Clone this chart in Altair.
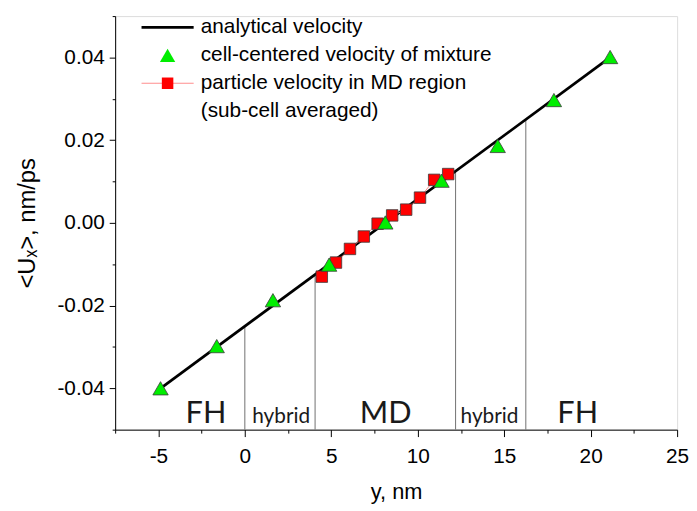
import altair as alt
import pandas as pd

# ---- legend / series names ----
L1 = "analytical velocity"
L2 = "cell-centered velocity of mixture"
L3 = "particle velocity in MD region"
L4 = "(sub-cell averaged)"
legend_labels = [L1, L2, L3, L4]
# marker legend keys (kept distinct so the marker legend is not merged with the line legend)
marker_keys = ["m0", "cell", "particle", "m3"]

# ---- data ----
ana_y = [-4.875, 21.125]
ana_u = [-0.040, 0.040]

cell_y = [-4.875, -1.625, 1.625, 4.875, 8.125, 11.375, 14.625, 17.875, 21.125]
cell_u = [-0.0400, -0.0298, -0.0187, -0.0101, 0.0001, 0.0102, 0.0186, 0.0297, 0.0401]

md_y = [4.45, 5.27, 6.08, 6.88, 7.68, 8.52, 9.33, 10.13, 10.95, 11.76]
md_u = [-0.0130, -0.0096, -0.0063, -0.0033, -0.0002, 0.0018, 0.0032, 0.0061, 0.0104, 0.0118]

bound_y = [0.0, 4.0625, 12.1875, 16.25]
bound_top = [-0.025, -0.0125, 0.0125, 0.025]
bound_bottom = [-0.05, -0.05, -0.05, -0.05]

region_text = ["FH", "hybrid", "MD", "hybrid", "FH"]
region_y = [-2.25, 2.1, 8.15, 14.15, 19.25]
region_u = [-0.0484, -0.0484, -0.0484, -0.0484, -0.0484]
region_fs = [31, 21, 31, 21, 31]

x_ticks = [-7.5, -5, -2.5, 0, 2.5, 5, 7.5, 10, 12.5, 15, 17.5, 20, 22.5, 25]
y_ticks = [-0.05, -0.04, -0.03, -0.02, -0.01, 0.0, 0.01, 0.02, 0.03, 0.04, 0.05]

ana_df = pd.DataFrame({"y": ana_y, "u": ana_u, "series_l": L1})
md_line_df = pd.DataFrame({"y": md_y, "u": md_u, "series_l": L3})
md_pt_df = pd.DataFrame({"y": md_y, "u": md_u, "series_p": marker_keys[2]})
cell_df = pd.DataFrame({"y": cell_y, "u": cell_u, "series_p": marker_keys[1]})
bound_df = pd.DataFrame({"y": bound_y, "u": bound_bottom, "u2": bound_top})
region_df = pd.DataFrame({"y": region_y, "u": region_u, "label": region_text, "fs": region_fs})

FONT = "Liberation Sans"

x_major = "datum.value % 5 == 0"
y_major = "abs(round(datum.value * 100)) % 2 == 0"

x_axis = alt.Axis(
    values=x_ticks,
    labelExpr=f"{x_major} ? ((datum.value < 0 ? '-' : '') + format(abs(datum.value), 'd')) : ''",
    tickSize={"condition": {"test": x_major, "value": 7}, "value": 3.5},
    grid=False, labelFlush=False, labelOverlap=False,
    domainColor="black", tickColor="black", domainWidth=1, tickWidth=1,
    labelFont=FONT, labelFontSize=21, labelColor="black", labelPadding=9,
    title="y, nm", titleFont=FONT, titleFontSize=22, titleFontWeight="normal",
    titleColor="black", titlePadding=16,
)
y_axis = alt.Axis(
    values=y_ticks,
    labelExpr=f"{y_major} ? ((datum.value < 0 ? '-' : '') + format(abs(datum.value), '.2f')) : ''",
    tickSize={"condition": {"test": y_major, "value": 6}, "value": 3},
    grid=False, labelFlush=False, labelOverlap=False,
    domainColor="black", tickColor="black", domainWidth=1, tickWidth=1,
    labelFont=FONT, labelFontSize=21, labelColor="black", labelPadding=5,
    title="<Uₓ>, nm/ps", titleFont=FONT, titleFontSize=24, titleFontWeight="normal",
    titleColor="black", titlePadding=18,
)

X = alt.X("y:Q", scale=alt.Scale(domain=[-7.5, 25], nice=False, zero=False), axis=x_axis)
Y = alt.Y("u:Q", scale=alt.Scale(domain=[-0.05, 0.05], nice=False, zero=False), axis=y_axis)

LEG_X = 42.5
LEG_Y = 1
ROW_PAD = 6.2

leg_line = alt.Legend(
    title=None, orient="none", legendX=LEG_X, legendY=LEG_Y, padding=0,
    symbolType="M-3.4,0H3.4", symbolSize=240,
    labelFont=FONT, labelFontSize=21, labelColor="black", labelOffset=23,
    rowPadding=ROW_PAD, labelLimit=0,
)
leg_pt = alt.Legend(
    title=None, orient="none", legendX=LEG_X, legendY=LEG_Y, padding=0,
    symbolSize=240, symbolStrokeColor="#3a3a3a", symbolStrokeWidth=0.8,
    labelFont=FONT, labelFontSize=21, labelOpacity=0, labelOffset=23,
    labelExpr="' '",
    rowPadding=ROW_PAD, labelLimit=0,
)

stroke_enc = alt.Stroke(
    "series_l:N",
    scale=alt.Scale(domain=legend_labels, range=["#000000", "transparent", "#ff8c8c", "transparent"]),
    legend=leg_line,
)
sw_enc = alt.StrokeWidth(
    "series_l:N",
    scale=alt.Scale(type="ordinal", domain=legend_labels, range=[2.8, 1, 1, 1]),
    legend=leg_line,
)
shape_enc = alt.Shape(
    "series_p:N",
    scale=alt.Scale(domain=marker_keys,
                    range=["M0,0", "triangle-up", "M-0.75,-0.75H0.75V0.75H-0.75Z", "M0,0"]),
    legend=leg_pt,
)
fill_enc = alt.Fill(
    "series_p:N",
    scale=alt.Scale(domain=marker_keys, range=["transparent", "#00ee00", "#ff0000", "transparent"]),
    legend=leg_pt,
)

bounds = alt.Chart(bound_df).mark_rule(color="#707070", strokeWidth=1).encode(
    x=X, y=Y, y2="u2:Q"
)
ana = alt.Chart(ana_df).mark_line().encode(x=X, y=Y, stroke=stroke_enc, strokeWidth=sw_enc)
md_line = alt.Chart(md_line_df).mark_line().encode(x=X, y=Y, stroke=stroke_enc, strokeWidth=sw_enc)
md_pts = alt.Chart(md_pt_df).mark_point(
    filled=True, size=240, opacity=1, stroke="#3a3a3a", strokeWidth=0.8
).encode(x=X, y=Y, shape=shape_enc, fill=fill_enc)
cell_pts = alt.Chart(cell_df).mark_point(
    filled=True, size=240, opacity=1, stroke="#3a3a3a", strokeWidth=0.8
).encode(x=X, y=Y, shape=shape_enc, fill=fill_enc)
regions = alt.Chart(region_df).mark_text(
    font="Lato", baseline="alphabetic", align="center", color="#1a1a1a"
).encode(x=X, y=Y, text="label:N", size=alt.Size("fs:Q", scale=None, legend=None))

chart = alt.layer(bounds, ana, md_line, md_pts, cell_pts, regions).properties(
    width=568, height=418,
    autosize=alt.AutoSizeParams(type="none"),
    padding={"left": 108.3, "top": 5.5, "right": 12, "bottom": 75},
).configure_view(stroke=None).configure(background="white")

chart.save("out.html", embed_options={"renderer": "svg", "actions": False})
